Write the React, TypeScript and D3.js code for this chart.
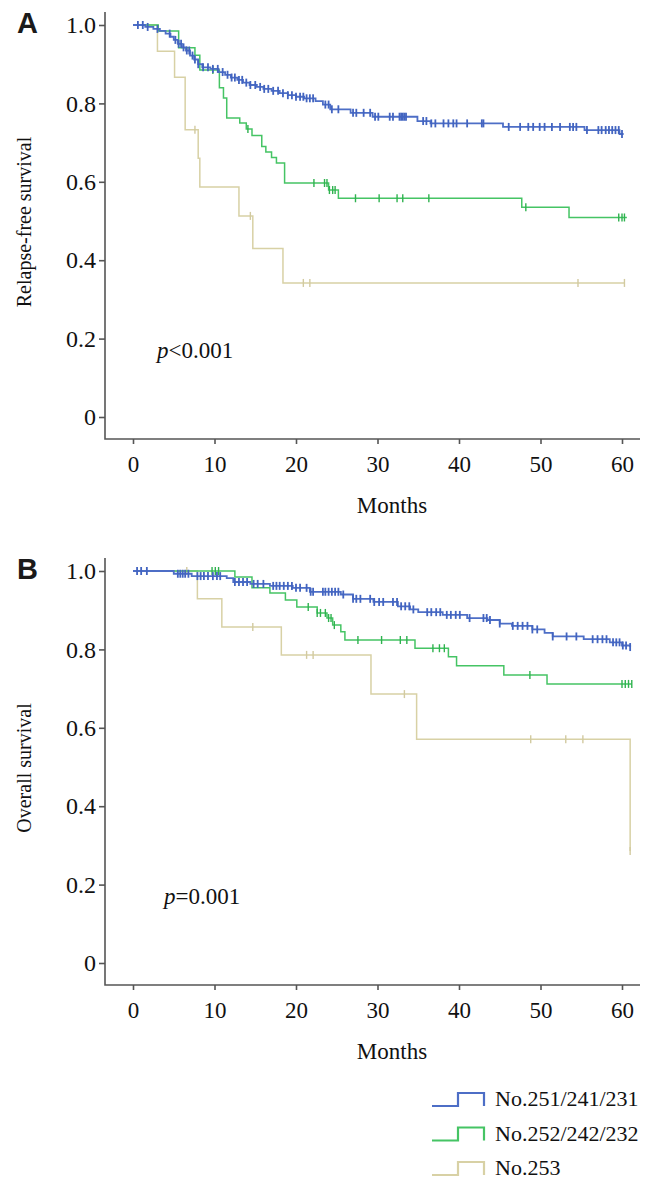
import * as d3 from "d3";
import { useEffect, useRef } from "react";

// axis ticks
const monthTicks = [0, 10, 20, 30, 40, 50, 60];
const survTicks = [0, 0.2, 0.4, 0.6, 0.8, 1.0];
const groupNames = ["No.251/241/231", "No.252/242/232", "No.253"];
const groupColors = ["#4d6ec6", "#45c464", "#d8d1a5"];
const censorColors = ["#4264c0", "#2fb24f", "#d2caa0"];

// Panel A: relapse-free survival, [month, survival] after each drop
const rfsBlue = [[0, 1], [1.5, 0.995], [2.5, 0.99], [3.3, 0.985], [4.0, 0.978], [4.6, 0.97], [5.0, 0.962], [5.5, 0.952], [6.0, 0.943], [6.5, 0.935], [7.0, 0.922], [7.5, 0.912], [8.0, 0.9], [8.5, 0.892], [9.5, 0.888], [10.5, 0.88], [11.3, 0.873], [12.0, 0.866], [12.8, 0.86], [13.5, 0.853], [14.3, 0.847], [15.2, 0.842], [16.0, 0.837], [17.0, 0.832], [18.0, 0.826], [19.0, 0.821], [20.0, 0.817], [21.0, 0.813], [22.4, 0.806], [23.3, 0.797], [24.2, 0.785], [26.7, 0.776], [29.4, 0.766], [34.9, 0.755], [36.5, 0.749], [45.4, 0.74], [55.4, 0.732], [59.7, 0.722], [60.2, 0.722]];
const rfsGreen = [[0, 1], [3.1, 0.985], [5.6, 0.942], [7.6, 0.923], [8.2, 0.885], [10.6, 0.84], [11.1, 0.814], [11.5, 0.763], [13.1, 0.75], [13.9, 0.735], [14.6, 0.718], [15.8, 0.69], [16.3, 0.676], [17.0, 0.662], [17.6, 0.648], [18.6, 0.597], [24.0, 0.579], [25.2, 0.558], [47.7, 0.535], [53.5, 0.509], [60.6, 0.509]];
const rfsTan = [[0, 1], [3.0, 0.933], [5.1, 0.867], [6.4, 0.733], [8.0, 0.66], [8.2, 0.587], [13.0, 0.513], [14.7, 0.43], [18.4, 0.342], [60.3, 0.342]];
const rfsBlueCens = [0.6, 1.2, 1.8, 3.0, 4.5, 5.2, 5.6, 5.9, 6.2, 6.6, 6.9, 7.3, 7.6, 8.0, 8.6, 9.2, 9.8, 10.4, 11.0, 11.6, 12.1, 12.5, 13.0, 13.4, 13.9, 14.4, 15.0, 15.6, 16.1, 16.6, 17.2, 17.8, 18.4, 19.0, 19.5, 20.0, 20.5, 20.9, 21.3, 21.7, 22.1, 23.6, 24.0, 24.4, 25.2, 27.0, 27.4, 28.3, 29.1, 29.7, 30.1, 31.5, 31.9, 32.7, 32.9, 33.1, 33.3, 33.5, 35.6, 36.0, 36.6, 37.1, 38.1, 38.7, 39.3, 39.7, 41.0, 42.8, 43.0, 46.1, 47.5, 48.5, 49.1, 49.9, 50.5, 51.4, 52.4, 53.6, 54.0, 54.4, 55.7, 57.1, 57.5, 58.0, 58.4, 58.8, 59.2, 59.6, 60.0];
const rfsGreenCens = [9.8, 14.1, 22.2, 23.5, 23.8, 24.1, 24.5, 24.8, 27.3, 30.2, 32.4, 33.1, 36.3, 48.2, 59.6, 60.0, 60.3];
const rfsTanCens = [7.6, 14.4, 20.9, 21.7, 54.6, 60.3];

// Panel B: overall survival
const osBlue = [[0, 1], [5.0, 0.993], [7.2, 0.987], [11.5, 0.982], [12.3, 0.972], [14.4, 0.967], [16.8, 0.962], [19.6, 0.957], [21.7, 0.947], [25.5, 0.94], [27.0, 0.929], [29.5, 0.921], [32.5, 0.91], [34.0, 0.902], [35.0, 0.895], [38.0, 0.888], [41.0, 0.88], [43.5, 0.875], [45.0, 0.866], [46.5, 0.86], [49.0, 0.851], [50.5, 0.842], [51.5, 0.833], [55.3, 0.826], [58.5, 0.818], [60.0, 0.81], [61.0, 0.806]];
const osGreen = [[0, 1], [12.5, 0.985], [14.6, 0.957], [16.8, 0.944], [18.7, 0.926], [20.1, 0.908], [22.6, 0.893], [23.8, 0.88], [24.5, 0.862], [25.5, 0.845], [26.0, 0.824], [34.6, 0.803], [38.7, 0.781], [39.7, 0.758], [45.5, 0.735], [50.8, 0.712], [61.2, 0.712]];
const osTan = [[0, 1], [7.9, 0.929], [10.9, 0.857], [18.2, 0.786], [29.2, 0.686], [34.8, 0.571], [61.0, 0.286]];
const osBlueCens = [0.5, 1.0, 1.7, 5.5, 5.8, 6.1, 6.4, 6.8, 7.9, 8.3, 8.7, 9.2, 9.8, 10.3, 10.7, 12.5, 13.0, 13.5, 14.0, 14.8, 15.3, 16.0, 17.2, 17.6, 18.0, 18.5, 19.0, 19.5, 20.0, 20.5, 21.3, 21.8, 22.1, 23.3, 23.6, 24.0, 24.4, 24.8, 25.2, 25.8, 27.0, 27.4, 27.9, 29.1, 29.6, 30.2, 30.7, 31.9, 32.4, 32.9, 33.4, 33.9, 34.4, 36.1, 36.6, 37.2, 37.7, 38.5, 39.0, 39.6, 40.1, 41.3, 43.0, 43.4, 43.8, 45.0, 46.6, 47.2, 47.8, 48.4, 49.0, 49.6, 51.5, 53.2, 54.4, 56.4, 57.0, 57.6, 58.1, 58.9, 59.3, 59.7, 60.1, 60.5, 61.0];
const osGreenCens = [9.7, 10.1, 10.5, 21.5, 22.6, 23.0, 23.6, 24.0, 24.3, 24.7, 27.6, 30.5, 32.8, 33.6, 36.8, 37.6, 38.2, 48.7, 60.0, 60.4, 60.8, 61.2];
const osTanCens = [6.6, 14.7, 21.3, 22.1, 33.3, 48.8, 53.1, 55.2, 61.0];

const panels = [
    { letter: "A", title: "Relapse-free survival", p: "<0.001", top: 25, curves: [rfsBlue, rfsGreen, rfsTan], cens: [rfsBlueCens, rfsGreenCens, rfsTanCens], px: 157 },
    { letter: "B", title: "Overall survival", p: "=0.001", top: 571, curves: [osBlue, osGreen, osTan], cens: [osBlueCens, osGreenCens, osTanCens], px: 164 },
];

const survAt = (steps, t) => {
    let s = 1;
    steps.forEach((d) => { if (d[0] <= t) s = d[1]; });
    return s;
};

const App = () => {
    const ref = useRef(null);

    useEffect(() => {
        const svg = d3.select(ref.current);
        svg.selectAll("*").remove();
        drawChart(svg);
    }, []);

    const drawChart = (svg) => {
        const serif = "'Liberation Serif', 'Times New Roman', serif";
        const x = d3.scaleLinear().domain([0, 60]).range([133, 622]);
        const axisLeftX = 105;
        const axisRight = 640;

        panels.forEach((pnl) => {
            const y = d3.scaleLinear().domain([0, 1]).range([pnl.top + 392, pnl.top]);
            const base = pnl.top + 414;
            const g = svg.append("g");

            // L-shaped axis frame
            g.append("path")
                .attr("d", `M${axisLeftX},${pnl.top - 13}V${base}H${axisRight}`)
                .attr("fill", "none")
                .attr("stroke", "#555")
                .attr("stroke-width", 1.6);

            const xa = g.append("g")
                .attr("transform", `translate(0,${base})`)
                .call(d3.axisBottom(x).tickValues(monthTicks).tickSize(5).tickPadding(12).tickFormat(d3.format("d")));
            xa.select(".domain").remove();

            const ya = g.append("g")
                .attr("transform", `translate(${axisLeftX},0)`)
                .call(d3.axisLeft(y).tickValues(survTicks).tickSize(6).tickPadding(3)
                    .tickFormat((d) => d === 0 ? "0" : d3.format(".1f")(d)));
            ya.select(".domain").remove();

            [xa, ya].forEach((a, k) => {
                a.attr("font-family", serif).attr("font-size", k === 0 ? 23 : 24);
                a.selectAll("line").attr("stroke", "#555").attr("stroke-width", 1.6);
                a.selectAll("text")
                    .style("font-family", serif)
                    .attr("font-size", k === 0 ? 23 : 24)
                    .attr("fill", "#111");
            });

            // curves
            const line = d3.line()
                .x((d) => x(d[0]))
                .y((d) => y(d[1]))
                .curve(d3.curveStepAfter);

            [2, 1, 0].forEach((i) => {
                g.append("path")
                    .datum(pnl.curves[i])
                    .attr("d", line)
                    .attr("fill", "none")
                    .attr("stroke", groupColors[i])
                    .attr("stroke-width", i === 0 ? 1.8 : 1.5);

                g.append("g")
                    .selectAll("line")
                    .data(pnl.cens[i])
                    .join("line")
                    .attr("x1", (d) => x(d))
                    .attr("x2", (d) => x(d))
                    .attr("y1", (d) => y(survAt(pnl.curves[i], d)) - 4)
                    .attr("y2", (d) => y(survAt(pnl.curves[i], d)) + 4)
                    .attr("stroke", censorColors[i])
                    .attr("stroke-width", i === 0 ? 1.8 : 1.4);
            });

            // labels
            g.append("text")
                .attr("x", 17)
                .attr("y", pnl.top + 8)
                .attr("font-family", "'Liberation Sans', Arial, sans-serif")
                .attr("font-weight", "bold")
                .attr("font-size", 29)
                .attr("fill", "#1a1a1a")
                .text(pnl.letter);

            g.append("text")
                .attr("transform", `translate(31,${pnl.top + 197}) rotate(-90)`)
                .attr("text-anchor", "middle")
                .style("font-family", serif)
                .attr("font-size", 20)
                .attr("fill", "#111")
                .text(pnl.title);

            g.append("text")
                .attr("x", 392)
                .attr("y", base + 74)
                .attr("text-anchor", "middle")
                .style("font-family", serif)
                .attr("font-size", 23)
                .attr("fill", "#111")
                .text("Months");

            const pt = g.append("text")
                .attr("x", pnl.px)
                .attr("y", y(0.2) + 19)
                .style("font-family", serif)
                .attr("font-size", 23)
                .attr("fill", "#111");
            pt.append("tspan").attr("font-style", "italic").text("p");
            pt.append("tspan").text(pnl.p);
        });

        // legend
        const lg = svg.append("g").attr("transform", "translate(432,1093)");
        groupNames.forEach((name, i) => {
            const row = lg.append("g").attr("transform", `translate(0,${i * 34.5})`);
            row.append("path")
                .attr("d", "M0,13H26V0H52V13")
                .attr("fill", "none")
                .attr("stroke", groupColors[i])
                .attr("stroke-width", 2.2);
            row.append("text")
                .attr("x", 63)
                .attr("y", 13)
                .style("font-family", serif)
                .attr("font-size", 22)
                .attr("fill", "#111")
                .text(name);
        });
    };

    return (
        <svg ref={ref} width={657} height={1191}
            style={{ position: "absolute", left: 0, top: 0, background: "#fff" }} />
    );
};

export default App;
